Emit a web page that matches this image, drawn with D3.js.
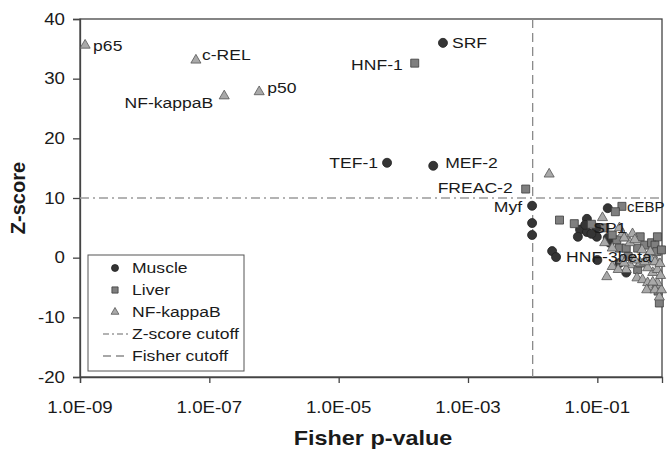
<!DOCTYPE html>
<html>
<head>
<meta charset="utf-8">
<script src="https://cdn.jsdelivr.net/npm/d3@7"></script>
<style>
  body { margin: 0; background: #fff; }
  svg { display: block; font-family: "Liberation Sans", Arial, sans-serif; }
</style>
</head>
<body>
<svg id="chart" width="668" height="451"></svg>
<script>
// ---- data: [Fisher p-value, Z-score, label] ----
const muscle = [
  [4.1e-4, 36.0, "SRF"], [5.6e-5, 15.9, "TEF-1"], [2.9e-4, 15.4, "MEF-2"], [9.8e-3, 8.7, "Myf"],
  [9.8e-3, 5.8], [9.8e-3, 3.8], [0.145, 8.3], [0.020, 1.1], [0.023, 0.1, "HNF-3beta"],
  [0.069, 6.5], [0.054, 4.7], [0.050, 3.5], [0.069, 4.3], [0.098, 3.5], [0.098, 5.0],
  [0.065, 5.5, "SP1"], [0.145, 3.3], [0.155, 2.5], [0.10, -0.4], [0.28, -2.5], [0.22, -0.9], [0.081, 4.0]
];
const liver = [
  [1.5e-4, 32.6, "HNF-1"], [7.8e-3, 11.5, "FREAC-2"], [0.24, 8.6, "cEBP"],
  [0.19, 7.7], [0.026, 6.3], [0.044, 5.7], [0.081, 5.6], [0.13, 5.0], [0.20, 3.0], [0.17, 3.8],
  [0.22, 1.6], [0.28, 1.6], [0.42, 1.6], [0.54, 2.1], [0.69, 2.5], [0.78, 2.1], [0.83, 1.0],
  [0.46, 3.5], [0.85, 3.5], [0.42, -2.0], [0.46, -0.9], [0.85, -5.1], [0.87, -5.6], [0.91, -7.6],
  [0.98, 1.3], [0.30, 0.2]
];
const nfkb = [
  [1.2e-9, 35.6, "p65"], [6.2e-8, 33.1, "c-REL"], [1.7e-7, 27.1, "NF-kappaB"], [5.9e-7, 27.8, "p50"],
  [0.018, 14.0], [0.12, 6.7], [0.22, 5.0], [0.245, 4.0], [0.28, 3.3], [0.35, 4.0], [0.32, 2.5],
  [0.38, 3.0], [0.13, 2.5], [0.17, 1.6], [0.26, 3.3], [0.49, 1.3], [0.58, 0.0], [0.69, -0.4],
  [0.83, -0.7], [0.46, -0.9], [0.32, -1.2], [0.24, -0.4], [0.17, -1.5], [0.14, -3.2], [0.28, -2.0],
  [0.41, -3.4], [0.50, -3.7], [0.60, -4.2], [0.69, -4.9], [0.83, -4.6], [0.58, -5.4], [0.78, -5.4],
  [0.91, -6.6], [0.21, -2.0], [0.72, -2.5], [0.85, -2.0], [0.60, -1.7], [0.78, -0.7], [0.54, -0.7],
  [0.38, -0.4], [0.26, -0.9], [0.98, -5.4], [0.85, -4.2], [0.72, -4.1], [0.95, -3.0], [0.93, -1.0],
  [0.66, 1.0]
];
const seriesNames = ["Muscle", "Liver", "NF-kappaB"];
const xTicks = [1e-9, 1e-7, 1e-5, 1e-3, 1e-1];
const xTickLabels = ["1.0E-09", "1.0E-07", "1.0E-05", "1.0E-03", "1.0E-01"];
const yTicks = [-20, -10, 0, 10, 20, 30, 40];
const zCutoff = 10;
const fisherCutoff = 0.01;

// ---- layout ----
const L = 80, R = 662, T = 19, B = 377;
const SX = 1.17; // horizontal text stretch seen in the reference
const svg = d3.select("#chart");
const x = d3.scaleLog().domain([1e-9, 1]).range([L, R]);
const y = d3.scaleLinear().domain([-20, 40]).range([B, T]);

const styles = [
  { sym: d3.symbolCircle, size: 64, fill: "#353535", stroke: "#222" },
  { sym: d3.symbolSquare, size: 64, fill: "#7f7f7f", stroke: "#3c3c3c" },
  { sym: d3.symbolTriangle, size: 44, fill: "#a9a9a9", stroke: "#555" }
];

function txt(g, px, py, s, size, anchor, weight, sx) {
  return g.append("text")
    .attr("transform", `translate(${px},${py}) scale(${sx || SX},1)`)
    .attr("dy", "0.35em").attr("text-anchor", anchor || "start")
    .attr("font-size", size).attr("font-weight", weight || "normal")
    .attr("fill", "#1a1a1a").text(s);
}

// plot frame
svg.append("rect").attr("x", L).attr("y", T).attr("width", R - L).attr("height", B - T)
  .attr("fill", "none").attr("stroke", "#444").attr("stroke-width", 1.3);

// axes
const yAxis = d3.axisLeft(y).tickValues(yTicks).tickSize(7).tickPadding(0).tickFormat(() => "");
const gy = svg.append("g").attr("transform", `translate(${L},0)`).call(yAxis);
const xAxis = d3.axisBottom(x).tickValues(xTicks).tickSize(6).tickFormat(() => "");
const gx = svg.append("g").attr("transform", `translate(0,${B})`).call(xAxis);
[gx, gy].forEach(g => {
  g.select(".domain").attr("stroke", "#444").attr("stroke-width", 1.3);
  g.selectAll(".tick line").attr("stroke", "#444").attr("stroke-width", 1.3);
});
const tl = svg.append("g");
yTicks.forEach(v => txt(tl, 65, y(v), String(v), 16, "end"));
xTicks.forEach((v, i) => txt(tl, x(v), 407, xTickLabels[i], 16, "middle"));

// cutoff lines
svg.append("line").attr("x1", L).attr("x2", R).attr("y1", y(zCutoff)).attr("y2", y(zCutoff))
  .attr("stroke", "#9a9a9a").attr("stroke-width", 1.5).attr("stroke-dasharray", "9,4,2,4");
svg.append("line").attr("x1", x(fisherCutoff)).attr("x2", x(fisherCutoff)).attr("y1", T).attr("y2", B)
  .attr("stroke", "#8a8a8a").attr("stroke-width", 1.3).attr("stroke-dasharray", "9,5");

// points
[muscle, liver, nfkb].forEach((data, i) => {
  const s = styles[i];
  svg.append("g").selectAll("path").data(data).join("path")
    .attr("d", d3.symbol().type(s.sym).size(s.size))
    .attr("transform", d => `translate(${x(d[0])},${y(d[1])})`)
    .attr("fill", s.fill).attr("stroke", s.stroke).attr("stroke-width", 0.8);
});

// point labels  [dx, dy, anchor, horizontal stretch]
const labelPos = {
  "SRF": [9, 0, "start"], "TEF-1": [-9, 0, "end"], "MEF-2": [12, -3, "start"], "Myf": [-10, 1, "end"],
  "HNF-3beta": [10, 0, "start"], "SP1": [8, 3, "start"], "HNF-1": [-12, 2, "end"],
  "FREAC-2": [-13, -1, "end"], "cEBP": [5, 0, "start", 1.0], "p65": [8, 0, "start"],
  "c-REL": [6, -5, "start"], "NF-kappaB": [-11, 7, "end"], "p50": [8, -4, "start"]
};
const labeled = [].concat(muscle, liver, nfkb).filter(d => d[2]);
const lbl = svg.append("g");
labeled.forEach(d => {
  const p = labelPos[d[2]];
  txt(lbl, x(d[0]) + p[0], y(d[1]) + p[1], d[2], 15, p[2], "normal", p[3]);
});

// axis titles
txt(svg, (L + R) / 2 + 2, 438, "Fisher p-value", 20, "middle", "bold");
svg.append("text").attr("transform", `translate(18,${(T + B) / 2}) rotate(-90)`).attr("dy", "0.35em")
  .attr("text-anchor", "middle").attr("font-size", 20).attr("font-weight", "bold").attr("fill", "#1a1a1a")
  .text("Z-score");

// legend
const lg = svg.append("g");
lg.append("rect").attr("x", 88).attr("y", 255).attr("width", 156).attr("height", 116)
  .attr("fill", "#fff").attr("stroke", "#555").attr("stroke-width", 1);
const rowY = [268, 290, 312, 334, 356];
seriesNames.forEach((n, i) => {
  const s = styles[i];
  lg.append("path").attr("d", d3.symbol().type(s.sym).size(s.size * 0.6))
    .attr("transform", `translate(115,${rowY[i]})`)
    .attr("fill", s.fill).attr("stroke", s.stroke).attr("stroke-width", 0.8);
  txt(lg, 132, rowY[i], n, 15);
});
lg.append("line").attr("x1", 103).attr("x2", 128).attr("y1", rowY[3]).attr("y2", rowY[3])
  .attr("stroke", "#9a9a9a").attr("stroke-width", 1.3).attr("stroke-dasharray", "6,3,2,3");
txt(lg, 132, rowY[3], "Z-score cutoff", 15);
lg.append("line").attr("x1", 103).attr("x2", 128).attr("y1", rowY[4]).attr("y2", rowY[4])
  .attr("stroke", "#8a8a8a").attr("stroke-width", 1.3).attr("stroke-dasharray", "8,5");
txt(lg, 132, rowY[4], "Fisher cutoff", 15);
</script>
</body>
</html>
